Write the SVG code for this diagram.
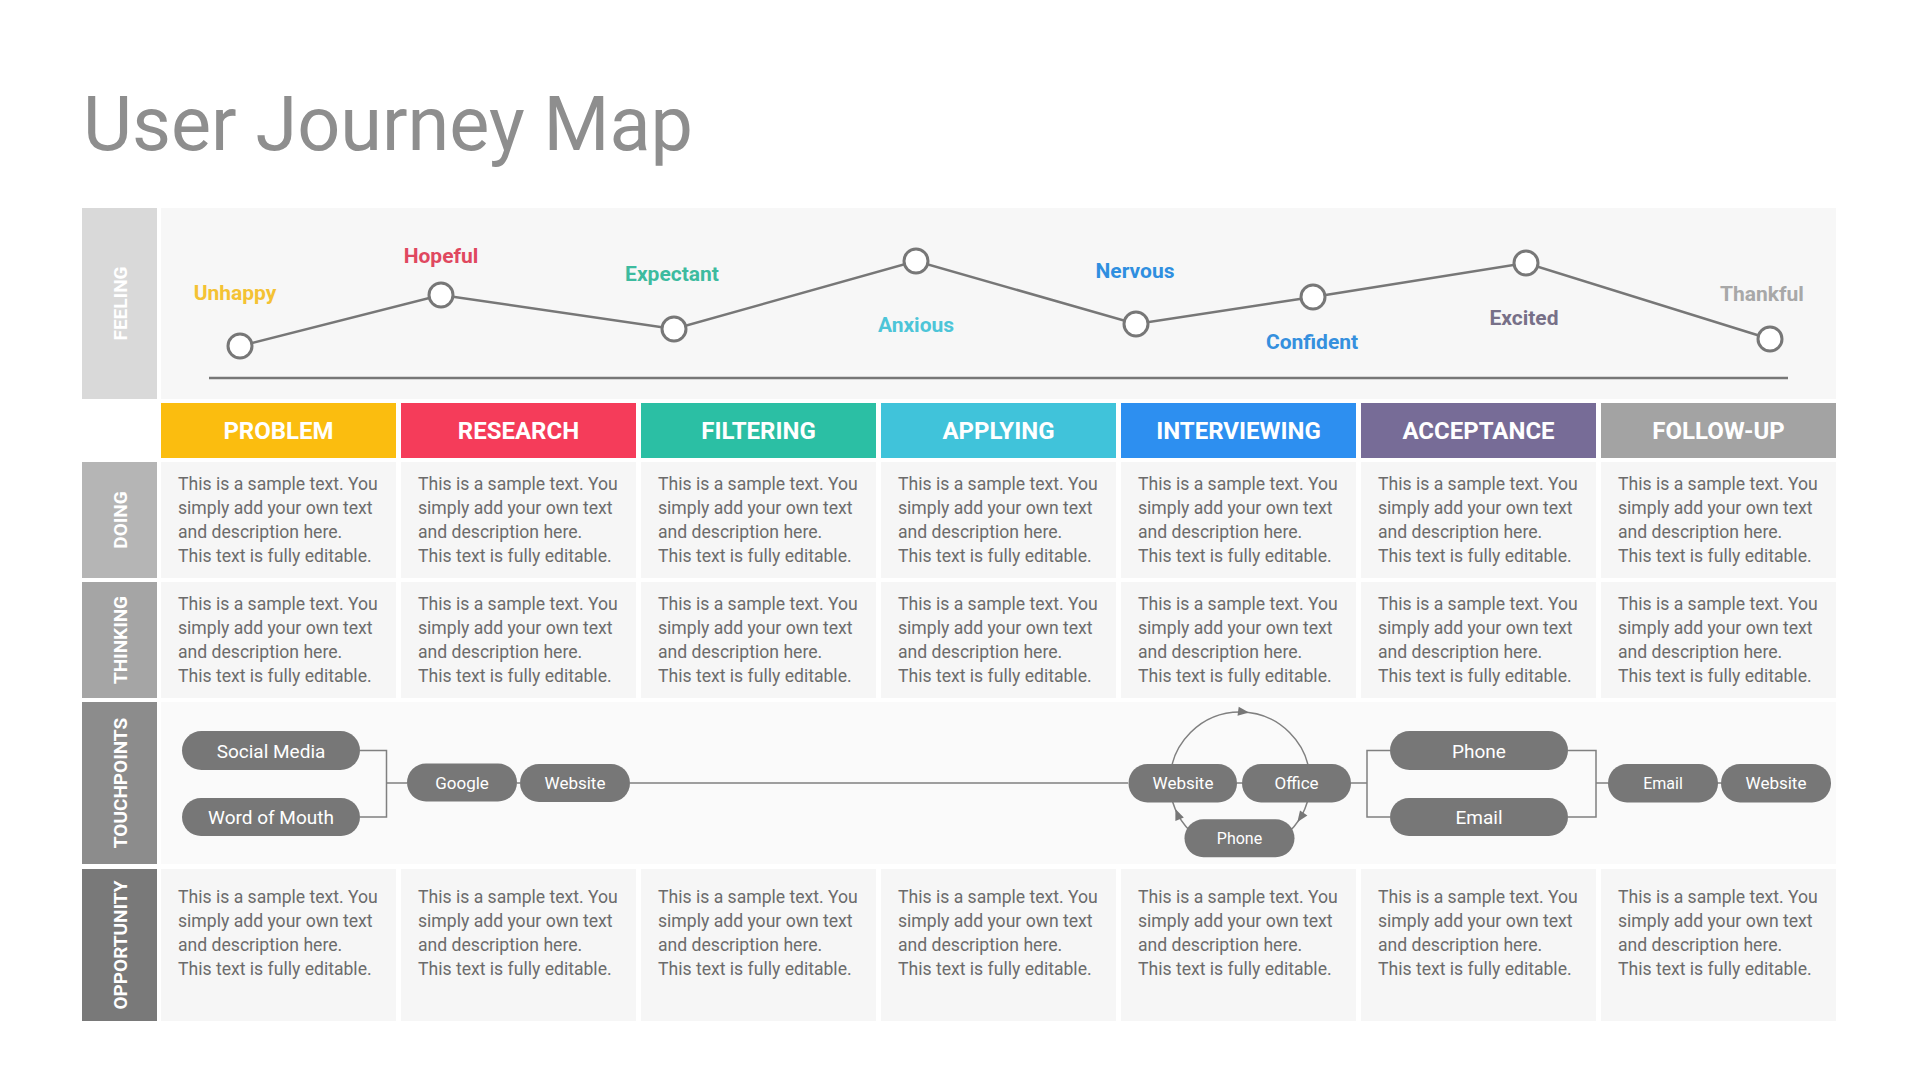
<svg xmlns="http://www.w3.org/2000/svg" width="1920" height="1080" viewBox="0 0 1920 1080">
<style>
.title{font-family:Roboto,"Liberation Sans",sans-serif;font-size:75.6px;fill:#8e8e8e}
.lab{font-family:Roboto,"Liberation Sans",sans-serif;font-size:19px;font-weight:bold;fill:#ffffff;text-anchor:middle}
.hd{font-family:Roboto,"Liberation Sans",sans-serif;font-size:24px;font-weight:bold;fill:#ffffff;text-anchor:middle}
.cell{fill:#f6f6f6}
.ct{font-family:Roboto,"Liberation Sans",sans-serif;font-size:17.6px;fill:#6b6b6b}
.fl{font-family:Roboto,"Liberation Sans",sans-serif;font-size:21px;font-weight:bold;text-anchor:middle}
.pill{fill:#777777}
.pt{font-family:Roboto,"Liberation Sans",sans-serif;fill:#ffffff;text-anchor:middle}
.conn{fill:none;stroke:#808080;stroke-width:1.5}
.dot{fill:#ffffff;stroke:#777777;stroke-width:3}
.arr{fill:#777777}
</style>
<rect width="1920" height="1080" fill="#ffffff"/>
<text class="title" x="83" y="150">User Journey Map</text>

<!-- row labels -->
<g id="label-feeling"><rect x="82" y="208" width="75" height="191" fill="#d9d9d9"/><text class="lab" transform="translate(126.5,303.5) rotate(-90)">FEELING</text></g>
<g id="label-doing"><rect x="82" y="462" width="75" height="116" fill="#b5b5b5"/><text class="lab" transform="translate(126.5,520) rotate(-90)">DOING</text></g>
<g id="label-thinking"><rect x="82" y="582" width="75" height="116" fill="#a5a5a5"/><text class="lab" transform="translate(126.5,640) rotate(-90)">THINKING</text></g>
<g id="label-touchpoints"><rect x="82" y="702" width="75" height="162" fill="#8c8c8c"/><text class="lab" transform="translate(126.5,783) rotate(-90)">TOUCHPOINTS</text></g>
<g id="label-opportunity"><rect x="82" y="869" width="75" height="152" fill="#797979"/><text class="lab" transform="translate(126.5,945) rotate(-90)">OPPORTUNITY</text></g>

<!-- feeling panel -->
<g id="feeling">
<rect x="161" y="208" width="1675" height="191" fill="#f7f7f7"/>
<line x1="209" y1="378" x2="1788" y2="378" stroke="#777777" stroke-width="2.5"/>
<polyline points="240,346 441,295 674,329 916,261 1136,324 1313,297 1526,263 1770,339" fill="none" stroke="#777777" stroke-width="2.5"/>
<circle class="dot" cx="240" cy="346" r="12"/>
<circle class="dot" cx="441" cy="295" r="12"/>
<circle class="dot" cx="674" cy="329" r="12"/>
<circle class="dot" cx="916" cy="261" r="12"/>
<circle class="dot" cx="1136" cy="324" r="12"/>
<circle class="dot" cx="1313" cy="297" r="12"/>
<circle class="dot" cx="1526" cy="263" r="12"/>
<circle class="dot" cx="1770" cy="339" r="12"/>
<text class="fl" x="235" y="300" fill="#f4c233">Unhappy</text>
<text class="fl" x="441" y="263" fill="#e0485f">Hopeful</text>
<text class="fl" x="672" y="281" fill="#3dbb9f">Expectant</text>
<text class="fl" x="916" y="332" fill="#4dc5d8">Anxious</text>
<text class="fl" x="1135" y="278" fill="#2f8fe0">Nervous</text>
<text class="fl" x="1312" y="349" fill="#3590de">Confident</text>
<text class="fl" x="1524" y="325" fill="#777088">Excited</text>
<text class="fl" x="1762" y="301" fill="#a8a8a8">Thankful</text>
</g>

<!-- headers -->
<g id="h-problem"><rect x="161" y="403" width="235" height="55" fill="#fbbd0f"/><text class="hd" x="278.5" y="439">PROBLEM</text></g>
<g id="h-research"><rect x="401" y="403" width="235" height="55" fill="#f53c5a"/><text class="hd" x="518.5" y="439">RESEARCH</text></g>
<g id="h-filtering"><rect x="641" y="403" width="235" height="55" fill="#2bbfa4"/><text class="hd" x="758.5" y="439">FILTERING</text></g>
<g id="h-applying"><rect x="881" y="403" width="235" height="55" fill="#40c3da"/><text class="hd" x="998.5" y="439">APPLYING</text></g>
<g id="h-interviewing"><rect x="1121" y="403" width="235" height="55" fill="#2d8ff0"/><text class="hd" x="1238.5" y="439">INTERVIEWING</text></g>
<g id="h-acceptance"><rect x="1361" y="403" width="235" height="55" fill="#776c97"/><text class="hd" x="1478.5" y="439">ACCEPTANCE</text></g>
<g id="h-followup"><rect x="1601" y="403" width="235" height="55" fill="#a3a3a3"/><text class="hd" x="1718.5" y="439">FOLLOW-UP</text></g>

<!-- doing row -->
<g id="doing">
<rect class="cell" x="161" y="462" width="235" height="116"/><rect class="cell" x="401" y="462" width="235" height="116"/><rect class="cell" x="641" y="462" width="235" height="116"/><rect class="cell" x="881" y="462" width="235" height="116"/><rect class="cell" x="1121" y="462" width="235" height="116"/><rect class="cell" x="1361" y="462" width="235" height="116"/><rect class="cell" x="1601" y="462" width="235" height="116"/>
<text class="ct"><tspan x="178" y="490">This is a sample text. You</tspan><tspan x="178" y="514">simply add your own text</tspan><tspan x="178" y="538">and description here.</tspan><tspan x="178" y="562">This text is fully editable.</tspan></text>
<text class="ct"><tspan x="418" y="490">This is a sample text. You</tspan><tspan x="418" y="514">simply add your own text</tspan><tspan x="418" y="538">and description here.</tspan><tspan x="418" y="562">This text is fully editable.</tspan></text>
<text class="ct"><tspan x="658" y="490">This is a sample text. You</tspan><tspan x="658" y="514">simply add your own text</tspan><tspan x="658" y="538">and description here.</tspan><tspan x="658" y="562">This text is fully editable.</tspan></text>
<text class="ct"><tspan x="898" y="490">This is a sample text. You</tspan><tspan x="898" y="514">simply add your own text</tspan><tspan x="898" y="538">and description here.</tspan><tspan x="898" y="562">This text is fully editable.</tspan></text>
<text class="ct"><tspan x="1138" y="490">This is a sample text. You</tspan><tspan x="1138" y="514">simply add your own text</tspan><tspan x="1138" y="538">and description here.</tspan><tspan x="1138" y="562">This text is fully editable.</tspan></text>
<text class="ct"><tspan x="1378" y="490">This is a sample text. You</tspan><tspan x="1378" y="514">simply add your own text</tspan><tspan x="1378" y="538">and description here.</tspan><tspan x="1378" y="562">This text is fully editable.</tspan></text>
<text class="ct"><tspan x="1618" y="490">This is a sample text. You</tspan><tspan x="1618" y="514">simply add your own text</tspan><tspan x="1618" y="538">and description here.</tspan><tspan x="1618" y="562">This text is fully editable.</tspan></text>
</g>

<!-- thinking row -->
<g id="thinking">
<rect class="cell" x="161" y="582" width="235" height="116"/><rect class="cell" x="401" y="582" width="235" height="116"/><rect class="cell" x="641" y="582" width="235" height="116"/><rect class="cell" x="881" y="582" width="235" height="116"/><rect class="cell" x="1121" y="582" width="235" height="116"/><rect class="cell" x="1361" y="582" width="235" height="116"/><rect class="cell" x="1601" y="582" width="235" height="116"/>
<text class="ct"><tspan x="178" y="610">This is a sample text. You</tspan><tspan x="178" y="634">simply add your own text</tspan><tspan x="178" y="658">and description here.</tspan><tspan x="178" y="682">This text is fully editable.</tspan></text>
<text class="ct"><tspan x="418" y="610">This is a sample text. You</tspan><tspan x="418" y="634">simply add your own text</tspan><tspan x="418" y="658">and description here.</tspan><tspan x="418" y="682">This text is fully editable.</tspan></text>
<text class="ct"><tspan x="658" y="610">This is a sample text. You</tspan><tspan x="658" y="634">simply add your own text</tspan><tspan x="658" y="658">and description here.</tspan><tspan x="658" y="682">This text is fully editable.</tspan></text>
<text class="ct"><tspan x="898" y="610">This is a sample text. You</tspan><tspan x="898" y="634">simply add your own text</tspan><tspan x="898" y="658">and description here.</tspan><tspan x="898" y="682">This text is fully editable.</tspan></text>
<text class="ct"><tspan x="1138" y="610">This is a sample text. You</tspan><tspan x="1138" y="634">simply add your own text</tspan><tspan x="1138" y="658">and description here.</tspan><tspan x="1138" y="682">This text is fully editable.</tspan></text>
<text class="ct"><tspan x="1378" y="610">This is a sample text. You</tspan><tspan x="1378" y="634">simply add your own text</tspan><tspan x="1378" y="658">and description here.</tspan><tspan x="1378" y="682">This text is fully editable.</tspan></text>
<text class="ct"><tspan x="1618" y="610">This is a sample text. You</tspan><tspan x="1618" y="634">simply add your own text</tspan><tspan x="1618" y="658">and description here.</tspan><tspan x="1618" y="682">This text is fully editable.</tspan></text>
</g>

<!-- touchpoints panel -->
<rect x="161" y="702" width="1675" height="162" fill="#fafafa"/>

<g id="connectors">
<path class="conn" d="M360,750.5 H386.5 V817 H360 M386.5,783 H407"/>
<path class="conn" d="M517,783 H520 M630,783 H1128"/>
<path class="conn" d="M1237,783 H1242 M1351,783 H1367 M1390,750.5 H1367 V817 H1390"/>
<path class="conn" d="M1568,750.5 H1596 V817 H1568 M1596,783 H1608 M1717,783 H1721"/>
<circle class="conn" cx="1240" cy="782" r="70"/>
<polygon class="arr" points="1249,712.6 1237.5,715.7 1238.7,706.7"/>
<polygon class="arr" points="1175.4,809 1183.8,817.5 1175.4,820.9"/>
<polygon class="arr" points="1297.4,822 1300,810.4 1307.4,815.6"/>
</g>

<g id="tp-social"><rect class="pill" x="182" y="731" width="178" height="39" rx="19.5"/><text class="pt" x="271" y="757.5" font-size="19">Social Media</text></g>
<g id="tp-word"><rect class="pill" x="182" y="798" width="178" height="38" rx="19"/><text class="pt" x="271" y="823.8" font-size="19">Word of Mouth</text></g>
<g id="tp-google"><rect class="pill" x="407" y="763.5" width="110" height="38" rx="19"/><text class="pt" x="462" y="788.5" font-size="17">Google</text></g>
<g id="tp-website1"><rect class="pill" x="520" y="764" width="110" height="38" rx="19"/><text class="pt" x="575" y="789.2" font-size="17">Website</text></g>
<g id="tp-website2"><rect class="pill" x="1128.5" y="764" width="108.5" height="38.5" rx="19"/><text class="pt" x="1183" y="789.3" font-size="17">Website</text></g>
<g id="tp-office"><rect class="pill" x="1242" y="764" width="109" height="38.5" rx="19"/><text class="pt" x="1296.5" y="789.3" font-size="17">Office</text></g>
<g id="tp-phone1"><rect class="pill" x="1184.5" y="819.3" width="110" height="38" rx="19"/><text class="pt" x="1239.5" y="844" font-size="16">Phone</text></g>
<g id="tp-phone2"><rect class="pill" x="1390" y="731" width="178" height="39" rx="19.5"/><text class="pt" x="1479" y="757.5" font-size="19">Phone</text></g>
<g id="tp-email2"><rect class="pill" x="1390" y="798" width="178" height="38" rx="19"/><text class="pt" x="1479" y="823.8" font-size="19">Email</text></g>
<g id="tp-email3"><rect class="pill" x="1608" y="764" width="110" height="38.5" rx="19"/><text class="pt" x="1663" y="789" font-size="16">Email</text></g>
<g id="tp-website3"><rect class="pill" x="1721" y="764" width="110" height="38.5" rx="19"/><text class="pt" x="1776" y="789.3" font-size="17">Website</text></g>

<!-- opportunity row -->
<g id="opportunity">
<rect class="cell" x="161" y="869" width="235" height="152"/><rect class="cell" x="401" y="869" width="235" height="152"/><rect class="cell" x="641" y="869" width="235" height="152"/><rect class="cell" x="881" y="869" width="235" height="152"/><rect class="cell" x="1121" y="869" width="235" height="152"/><rect class="cell" x="1361" y="869" width="235" height="152"/><rect class="cell" x="1601" y="869" width="235" height="152"/>
<text class="ct"><tspan x="178" y="903">This is a sample text. You</tspan><tspan x="178" y="927">simply add your own text</tspan><tspan x="178" y="951">and description here.</tspan><tspan x="178" y="975">This text is fully editable.</tspan></text>
<text class="ct"><tspan x="418" y="903">This is a sample text. You</tspan><tspan x="418" y="927">simply add your own text</tspan><tspan x="418" y="951">and description here.</tspan><tspan x="418" y="975">This text is fully editable.</tspan></text>
<text class="ct"><tspan x="658" y="903">This is a sample text. You</tspan><tspan x="658" y="927">simply add your own text</tspan><tspan x="658" y="951">and description here.</tspan><tspan x="658" y="975">This text is fully editable.</tspan></text>
<text class="ct"><tspan x="898" y="903">This is a sample text. You</tspan><tspan x="898" y="927">simply add your own text</tspan><tspan x="898" y="951">and description here.</tspan><tspan x="898" y="975">This text is fully editable.</tspan></text>
<text class="ct"><tspan x="1138" y="903">This is a sample text. You</tspan><tspan x="1138" y="927">simply add your own text</tspan><tspan x="1138" y="951">and description here.</tspan><tspan x="1138" y="975">This text is fully editable.</tspan></text>
<text class="ct"><tspan x="1378" y="903">This is a sample text. You</tspan><tspan x="1378" y="927">simply add your own text</tspan><tspan x="1378" y="951">and description here.</tspan><tspan x="1378" y="975">This text is fully editable.</tspan></text>
<text class="ct"><tspan x="1618" y="903">This is a sample text. You</tspan><tspan x="1618" y="927">simply add your own text</tspan><tspan x="1618" y="951">and description here.</tspan><tspan x="1618" y="975">This text is fully editable.</tspan></text>
</g>
</svg>
